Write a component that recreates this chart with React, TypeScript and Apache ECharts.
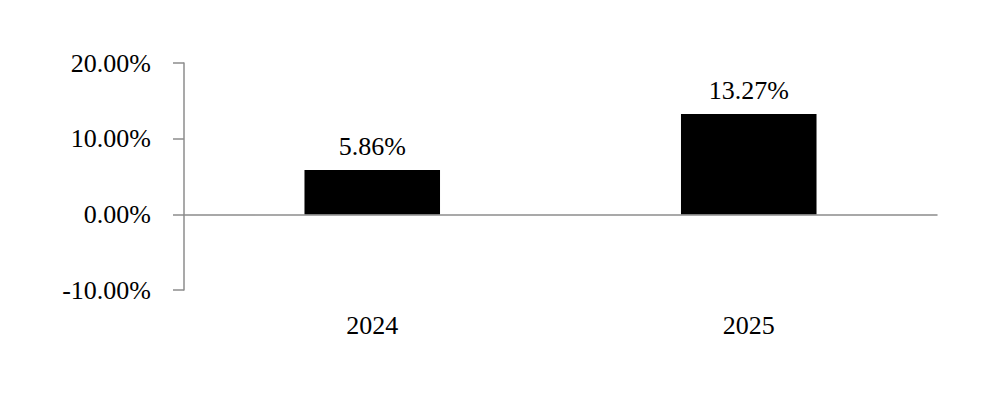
import { useEffect, useRef } from 'react'
import * as echarts from 'echarts'

const years = ['2024', '2025']
const returns = [5.86, 13.27]
const yMin = -10
const yMax = 20
const yStep = 10

const font = 'Times New Roman, serif'
const axisGrey = '#8c8c8c'

export default function App() {
  const ref = useRef<HTMLDivElement>(null)

  useEffect(() => {
    if (!ref.current) return
    const chart = echarts.init(ref.current, undefined, { renderer: 'svg' })
    chart.setOption({
      animation: false,
      backgroundColor: '#ffffff',
      textStyle: { fontFamily: font },
      grid: { left: 184, right: 63, top: 63, bottom: 112 },
      xAxis: [
        {
          type: 'category',
          data: years,
          axisLine: { onZero: true, lineStyle: { color: axisGrey, width: 1.5 } },
          axisTick: { show: false },
          axisLabel: { show: false }
        },
        {
          type: 'category',
          data: years,
          position: 'bottom',
          axisLine: { show: false, onZero: false },
          axisTick: { show: false },
          axisLabel: { color: '#000', fontSize: 26, fontFamily: font, margin: 22 }
        }
      ],
      yAxis: {
        type: 'value',
        min: yMin,
        max: yMax,
        interval: yStep,
        axisLine: { show: true, lineStyle: { color: axisGrey, width: 1.5 } },
        axisTick: { show: true, length: 11, lineStyle: { color: axisGrey, width: 1.5 } },
        splitLine: { show: false },
        axisLabel: {
          color: '#000',
          fontSize: 26,
          fontFamily: font,
          margin: 33,
          formatter: (v: number) => v.toFixed(2) + '%'
        }
      },
      series: [
        {
          type: 'bar',
          data: returns,
          barWidth: '36%',
          itemStyle: { color: '#000' },
          label: {
            show: true,
            position: 'top',
            distance: 10,
            color: '#000',
            fontSize: 26,
            fontFamily: font,
            formatter: (p: any) => p.value.toFixed(2) + '%'
          }
        }
      ]
    })
    return () => chart.dispose()
  }, [])

  return <div ref={ref} style={{ width: 1000, height: 402, margin: -8 }} />
}
